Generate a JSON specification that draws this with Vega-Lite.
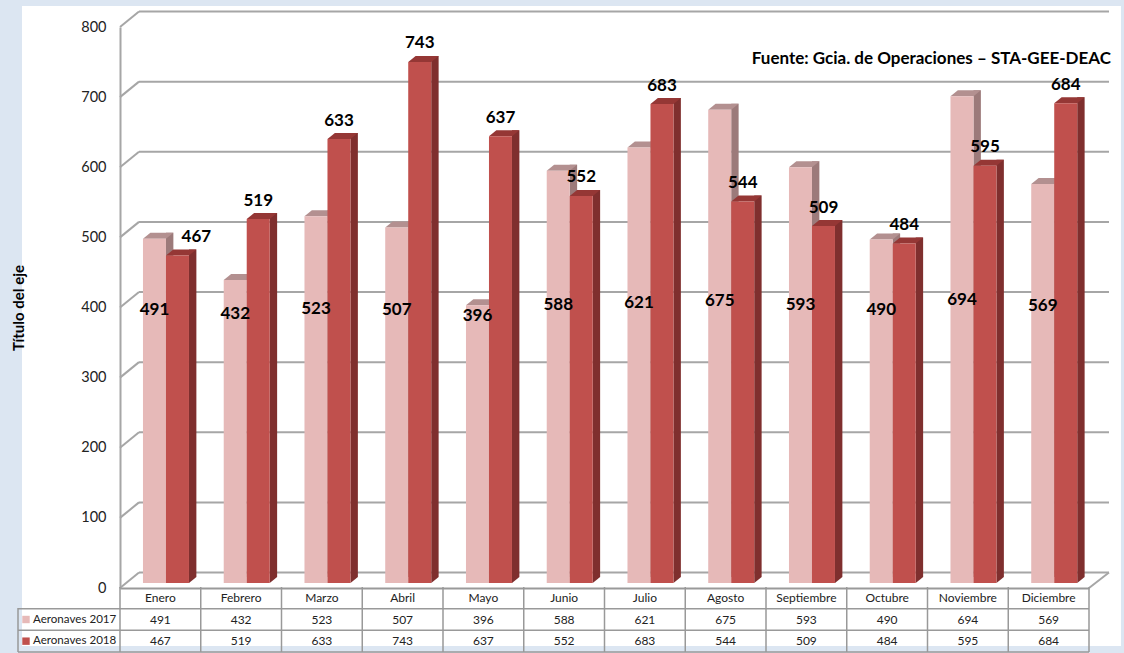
{
"$schema":"https://vega.github.io/schema/vega-lite/v6.json",
"width":1099,"height":640,
"autosize":{"type":"none"},
"padding":{"left":22,"top":6,"right":3,"bottom":7},
"background":"#dce6f2",
"view":{"fill":"white","stroke":null},
"config":{"font":"Lato"},
"title":{"text":"Fuente: Gcia. de Operaciones – STA-GEE-DEAC","anchor":"end","orient":"top","dx":-10,"offset":-62,"font":"Lato","fontSize":17,"fontWeight":"bold","color":"black"},
"datasets":{
"d":[
{"mes":"Enero","serie":"Aeronaves 2017","valor":491},{"mes":"Febrero","serie":"Aeronaves 2017","valor":432},{"mes":"Marzo","serie":"Aeronaves 2017","valor":523},{"mes":"Abril","serie":"Aeronaves 2017","valor":507},{"mes":"Mayo","serie":"Aeronaves 2017","valor":396},{"mes":"Junio","serie":"Aeronaves 2017","valor":588},{"mes":"Julio","serie":"Aeronaves 2017","valor":621},{"mes":"Agosto","serie":"Aeronaves 2017","valor":675},{"mes":"Septiembre","serie":"Aeronaves 2017","valor":593},{"mes":"Octubre","serie":"Aeronaves 2017","valor":490},{"mes":"Noviembre","serie":"Aeronaves 2017","valor":694},{"mes":"Diciembre","serie":"Aeronaves 2017","valor":569},
{"mes":"Enero","serie":"Aeronaves 2018","valor":467},{"mes":"Febrero","serie":"Aeronaves 2018","valor":519},{"mes":"Marzo","serie":"Aeronaves 2018","valor":633},{"mes":"Abril","serie":"Aeronaves 2018","valor":743},{"mes":"Mayo","serie":"Aeronaves 2018","valor":637},{"mes":"Junio","serie":"Aeronaves 2018","valor":552},{"mes":"Julio","serie":"Aeronaves 2018","valor":683},{"mes":"Agosto","serie":"Aeronaves 2018","valor":544},{"mes":"Septiembre","serie":"Aeronaves 2018","valor":509},{"mes":"Octubre","serie":"Aeronaves 2018","valor":484},{"mes":"Noviembre","serie":"Aeronaves 2018","valor":595},{"mes":"Diciembre","serie":"Aeronaves 2018","valor":684}
],
"ticks":[{"t":0},{"t":100},{"t":200},{"t":300},{"t":400},{"t":500},{"t":600},{"t":700},{"t":800}]
},
"data":{"name":"d"},
"encoding":{"x":{"field":"mes","type":"nominal","sort":null,"scale":{"type":"band","domain":["Enero","Febrero","Marzo","Abril","Mayo","Junio","Julio","Agosto","Septiembre","Octubre","Noviembre","Diciembre"],"range":[98,1067],"paddingInner":0,"paddingOuter":0},"axis":{"title":null,"orient":"bottom","offset":-58,"domainColor":"#999999","domainWidth":2,"ticks":false,"labelAngle":0,"labelFont":"Lato","labelFontSize":12,"labelColor":"#222222","labelPadding":4,"labelBaseline":"top","grid":false}}},
"resolve":{"scale":{"y":"independent"}},
"layer":[
{"layer":[
{"data":{"name":"ticks"},"mark":{"type":"rule","color":"#a6a6a6","strokeWidth":2,"yOffset":-15.5},
 "encoding":{"x":{"value":117},"x2":{"value":1087},
 "y":{"field":"t","type":"quantitative","scale":{"domain":[0,800],"range":[582,21]},
 "axis":{"title":"Título del eje","titleFont":"Lato","titleFontSize":15,"titleFontWeight":"bold","titleColor":"black","titlePadding":54,"offset":-98,"domainColor":"#a6a6a6","domainWidth":2,"ticks":false,"grid":false,"values":[0,100,200,300,400,500,600,700,800],"labelFont":"Lato","labelFontSize":14.5,"labelColor":"#222222","labelPadding":14}}}},
{"data":{"name":"ticks"},"mark":{"type":"point","shape":"M0,0L19,-15.5","size":4,"filled":false,"stroke":"#a6a6a6","strokeWidth":2,"opacity":1},
 "encoding":{"x":{"value":98},"y":{"field":"t","type":"quantitative"}}},
{"data":{"name":"ticks"},"transform":[{"filter":"datum.t===0"}],"mark":{"type":"point","shape":"M0,0L20,-15.5","size":4,"filled":false,"stroke":"#a6a6a6","strokeWidth":2,"opacity":1},
 "encoding":{"x":{"value":1067},"y":{"field":"t","type":"quantitative"}}},

{"transform":[{"filter":"datum.serie==='Aeronaves 2017'"}],"mark":{"type":"bar","width":7.4,"xOffset":9.3,"yOffset":-11,"y2Offset":-11,"color":"#9c7a7a"},
 "encoding":{"y":{"field":"valor","type":"quantitative"},"y2":{"datum":0}}},
{"transform":[{"filter":"datum.serie==='Aeronaves 2017'"}],"mark":{"type":"point","shape":"M-17.4,-5L5.6,-5L13,-11L-10,-11Z","size":4,"filled":true,"color":"#b39090","opacity":1},
 "encoding":{"y":{"field":"valor","type":"quantitative"}}},
{"transform":[{"filter":"datum.serie==='Aeronaves 2017'"}],"mark":{"type":"bar","width":23,"xOffset":-5.9,"yOffset":-5,"y2Offset":-5,"color":"#e6b9b8"},
 "encoding":{"y":{"field":"valor","type":"quantitative"},"y2":{"datum":0}}},

{"transform":[{"filter":"datum.serie==='Aeronaves 2018'"}],"mark":{"type":"bar","width":7.4,"xOffset":32.3,"yOffset":-11,"y2Offset":-11,"color":"#7f2f2e"},
 "encoding":{"y":{"field":"valor","type":"quantitative"},"y2":{"datum":0}}},
{"transform":[{"filter":"datum.serie==='Aeronaves 2018'"}],"mark":{"type":"point","shape":"M28.6,-5L36,-11L28.6,-11Z","size":4,"filled":true,"color":"#7f2f2e","opacity":1},
 "encoding":{"y":{"datum":0,"type":"quantitative"}}},
{"transform":[{"filter":"datum.serie==='Aeronaves 2018'"}],"mark":{"type":"point","shape":"M5.6,-5L28.6,-5L36,-11L13,-11Z","size":4,"filled":true,"color":"#953735","opacity":1},
 "encoding":{"y":{"field":"valor","type":"quantitative"}}},
{"transform":[{"filter":"datum.serie==='Aeronaves 2018'"}],"mark":{"type":"bar","width":23,"xOffset":17.1,"yOffset":-5,"y2Offset":-5,"color":"#c0504d"},
 "encoding":{"y":{"field":"valor","type":"quantitative"},"y2":{"datum":0}}},

{"transform":[{"filter":"datum.serie==='Aeronaves 2018' && datum.mes!=='Enero'"}],"mark":{"type":"text","font":"Lato","fontSize":17,"fontWeight":"bold","color":"black","xOffset":17.1,"yOffset":-23.5},
 "encoding":{"y":{"field":"valor","type":"quantitative"},"text":{"field":"valor"}}},
{"transform":[{"filter":"datum.serie==='Aeronaves 2018' && datum.mes==='Enero'"}],"mark":{"type":"text","font":"Lato","fontSize":17,"fontWeight":"bold","color":"black","xOffset":36,"yOffset":-23.5},
 "encoding":{"y":{"field":"valor","type":"quantitative"},"text":{"field":"valor"}}}
]},
{"transform":[{"filter":"datum.serie==='Aeronaves 2017'"}],"mark":{"type":"text","font":"Lato","fontSize":17,"fontWeight":"bold","color":"black","xOffset":-5.9},
 "encoding":{"y":{"field":"valor","type":"quantitative","scale":{"domain":[396,694],"range":[309.5,293.5]},"axis":null},"text":{"field":"valor"}}},
{"layer":[
{"mark":{"type":"text","font":"Lato","fontSize":12,"color":"#222222"},
 "encoding":{"y":{"field":"serie","type":"nominal","scale":{"type":"band","domain":["Mes","Aeronaves 2017","Aeronaves 2018"],"range":[581,646],"paddingInner":0,"paddingOuter":0},"axis":null},"text":{"field":"valor"}}},
{"transform":[{"filter":"datum.mes==='Enero'"}],"mark":{"type":"text","font":"Lato","fontSize":11.6,"color":"#222222","align":"left"},
 "encoding":{"x":{"value":11},"y":{"field":"serie","type":"nominal"},"text":{"field":"serie"}}},
{"transform":[{"filter":"datum.mes==='Enero'"}],"mark":{"type":"point","shape":"square","filled":true,"size":55,"opacity":1},
 "encoding":{"x":{"value":4},"y":{"field":"serie","type":"nominal"},"color":{"field":"serie","type":"nominal","scale":{"domain":["Aeronaves 2017","Aeronaves 2018"],"range":["#e6b9b8","#c0504d"]},"legend":null}}},
{"transform":[{"filter":"datum.mes==='Enero'"}],"mark":{"type":"rule","color":"#999999","strokeWidth":1.5},
 "encoding":{"x":{"value":-4},"x2":{"value":1067},"y":{"field":"serie","type":"nominal","bandPosition":0}}},
{"transform":[{"filter":"datum.mes==='Enero' && datum.serie==='Aeronaves 2018'"}],"mark":{"type":"rule","color":"#999999","strokeWidth":1.5},
 "encoding":{"x":{"value":-4},"x2":{"value":1067},"y":{"field":"serie","type":"nominal","bandPosition":1}}},
{"transform":[{"filter":"datum.serie==='Aeronaves 2017'"}],"mark":{"type":"rule","color":"#999999","strokeWidth":1.5},
 "encoding":{"x":{"field":"mes","type":"nominal","bandPosition":0},"y":{"value":581},"y2":{"value":646}}},
{"transform":[{"filter":"datum.serie==='Aeronaves 2017' && datum.mes==='Diciembre'"}],"mark":{"type":"rule","color":"#999999","strokeWidth":1.5},
 "encoding":{"x":{"field":"mes","type":"nominal","bandPosition":1},"y":{"value":581},"y2":{"value":646}}},
{"transform":[{"filter":"datum.serie==='Aeronaves 2017' && datum.mes==='Enero'"}],"mark":{"type":"rule","color":"#999999","strokeWidth":1.5},
 "encoding":{"x":{"value":-4},"y":{"value":602},"y2":{"value":646}}}
]}
]
}
